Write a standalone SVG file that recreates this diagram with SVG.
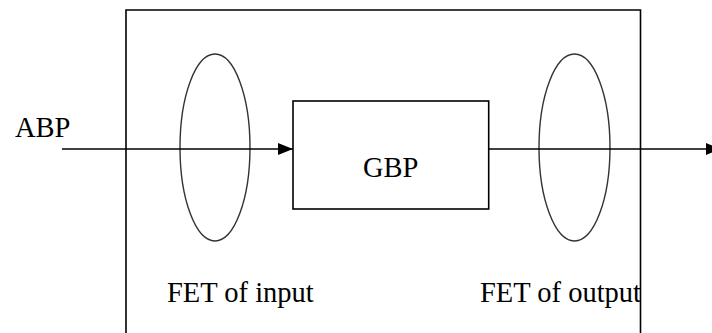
<svg xmlns="http://www.w3.org/2000/svg" width="712" height="333" viewBox="0 0 712 333">
<defs>
<style>
.ln{stroke:#000;stroke-width:1.6;fill:none}
.el{stroke:#333;stroke-width:1.4;fill:none}
.tx{font-family:"Liberation Serif","Times New Roman",serif;font-size:28.5px;fill:#000}
</style>
<marker id="ah" markerWidth="15" markerHeight="12" refX="15" refY="6" orient="auto" markerUnits="userSpaceOnUse">
<path d="M0,0 L15,6 L0,12 Z" fill="#000"/>
</marker>
</defs>
<rect width="712" height="333" fill="#fff"/>
<g id="system">
<path class="ln" d="M126,340 V10 H640.5 V340"/>
</g>
<g id="fet-input">
<ellipse class="el" cx="215" cy="147.5" rx="35" ry="93.5"/>
<text class="tx" x="167" y="302">FET of input</text>
</g>
<g id="fet-output">
<ellipse class="el" cx="574.5" cy="147.5" rx="35.5" ry="93.5"/>
<text class="tx" x="480" y="302">FET of output</text>
</g>
<g id="gbp">
<rect class="ln" x="293" y="101" width="195.7" height="108"/>
<text class="tx" x="363" y="177">GBP</text>
</g>
<g id="abp">
<text class="tx" x="15" y="137">ABP</text>
</g>
<g id="connectors">
<line class="ln" x1="62" y1="149" x2="293" y2="149" marker-end="url(#ah)"/>
<line class="ln" x1="488.7" y1="149" x2="721" y2="149" marker-end="url(#ah)"/>
</g>
</svg>
